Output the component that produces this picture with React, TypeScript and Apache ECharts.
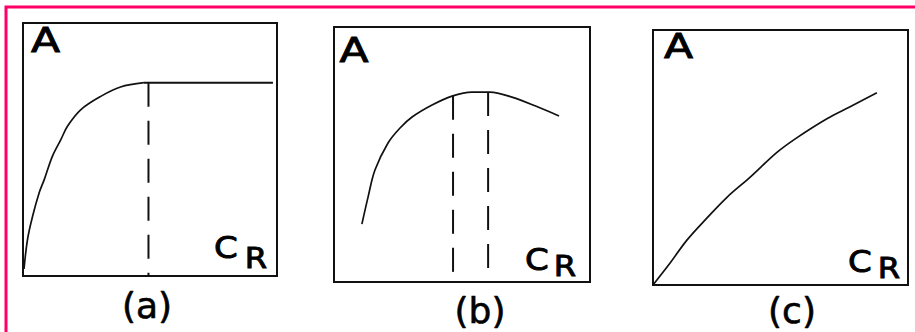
import React, { useEffect, useRef } from "react";
import * as echarts from "echarts";

// Panel captions and axis letters
const panelLabels = ["(a)", "(b)", "(c)"];
const yLetter = "A";
const xLetter = "C";
const xSubLetter = "R";

// Panel (a): saturating rise, then plateau
const curveA: number[][] = [
  [0.4, 2.8], [1.8, 14.6], [3.8, 23.7], [6.4, 33], [8.4, 38.2], [11.6, 47.4],
  [14.9, 53.9], [17.5, 59.2], [22.7, 65.7], [30.6, 71], [38.4, 74.7], [47.6, 76.4],
];
const plateauA: number[][] = [[47.6, 76.4], [98.4, 76.4]];
const marksA: number[][] = [[49.4, 76.4]];

// Panel (b): rise to a maximum, then decline
const curveB: number[][] = [
  [10.9, 22.7], [13.3, 33.3], [16.0, 43.9], [21.1, 54.5], [25.8, 60.4], [30.5, 64.7],
  [38.3, 69.4], [46.1, 72.9], [53.9, 74.5], [60.9, 74.5], [69.5, 72.5], [79.7, 68.6], [87.9, 65.1],
];
const marksB: number[][] = [[46.5, 73.0], [60.2, 74.5]];

// Panel (c): steady, slightly bending rise
const curveC: number[][] = [
  [0, 0], [6.7, 8.6], [13.3, 17.6], [21.1, 26.2], [29.0, 34.4], [38.0, 42.2],
  [48.6, 52.0], [56.5, 57.8], [68.2, 65.2], [77.3, 69.9], [87.8, 75.4],
];

const INK = "#111";
const FONT = "DejaVu Sans";

export default function App() {
  const ref = useRef<HTMLDivElement>(null);

  useEffect(() => {
    if (!ref.current) return;
    const chart = echarts.init(ref.current, undefined, { renderer: "svg" });

    const boxes = [
      { left: 23, top: 23, width: 254, height: 253 },
      { left: 334, top: 27, width: 256, height: 255 },
      { left: 653, top: 30, width: 255, height: 255 },
    ];

    const curveLine = { color: INK, width: 1.7 };
    const dashLine = { color: INK, width: 2, type: [24, 14] as number[] };

    const markSeries = (marks: number[][], gi: number) =>
      marks.map((m) => ({
        type: "line",
        xAxisIndex: gi,
        yAxisIndex: gi,
        data: [[m[0], m[1]], [m[0], 0]],
        showSymbol: false,
        lineStyle: dashLine,
        silent: true,
      }));

    const series: any[] = [
      { type: "line", xAxisIndex: 0, yAxisIndex: 0, data: curveA, smooth: 0.35, showSymbol: false, lineStyle: curveLine },
      { type: "line", xAxisIndex: 0, yAxisIndex: 0, data: plateauA, showSymbol: false, lineStyle: { color: INK, width: 2 } },
      ...markSeries(marksA, 0),
      { type: "line", xAxisIndex: 1, yAxisIndex: 1, data: curveB, smooth: 0.35, showSymbol: false, lineStyle: curveLine },
      ...markSeries(marksB, 1),
      { type: "line", xAxisIndex: 2, yAxisIndex: 2, data: curveC, smooth: 0.35, showSymbol: false, lineStyle: curveLine },
    ];

    const txt = (text: string, x: number, y: number, size: number, scaleX = 1, heavy = 0.9) => ({
      type: "text",
      x,
      y,
      scaleX,
      silent: true,
      style: {
        text,
        x: 0,
        y: 0,
        align: "center",
        verticalAlign: "middle",
        fill: "#000",
        stroke: "#000",
        lineWidth: heavy,
        fontSize: size,
        fontFamily: FONT,
      },
    });

    const labelPos = [
      { a: [45.5, 40], c: [226, 248], r: [256, 258.5], cap: [147, 305] },
      { a: [354, 50], c: [537, 260], r: [565, 266], cap: [480, 310] },
      { a: [678.5, 46.5], c: [860, 262], r: [889, 268.5], cap: [792, 310.5] },
    ];

    const graphics: any[] = [
      {
        type: "rect",
        silent: true,
        shape: { x: 6, y: 7, width: 1000, height: 1000 },
        style: { fill: "none", stroke: "#ff0066", lineWidth: 3 },
      },
    ];
    labelPos.forEach((p, i) => {
      graphics.push(txt(yLetter, p.a[0], p.a[1], 34, 1.25));
      graphics.push(txt(xLetter, p.c[0], p.c[1], 31, 1.1));
      graphics.push(txt(xSubLetter, p.r[0], p.r[1], 28, 1.15));
      graphics.push(txt(panelLabels[i], p.cap[0], p.cap[1], 36, 1, 0.6));
    });

    chart.setOption({
      animation: false,
      backgroundColor: "#fff",
      grid: boxes.map((b) => ({
        ...b,
        show: true,
        borderColor: INK,
        borderWidth: 2,
        backgroundColor: "transparent",
        containLabel: false,
      })),
      xAxis: boxes.map((_, i) => ({ type: "value", gridIndex: i, min: 0, max: 100, show: false })),
      yAxis: boxes.map((_, i) => ({ type: "value", gridIndex: i, min: 0, max: 100, show: false })),
      series,
      graphic: graphics,
    });

    return () => chart.dispose();
  }, []);

  return (
    <div
      ref={ref}
      style={{ position: "absolute", left: 0, top: 0, width: 915, height: 332 }}
    />
  );
}
